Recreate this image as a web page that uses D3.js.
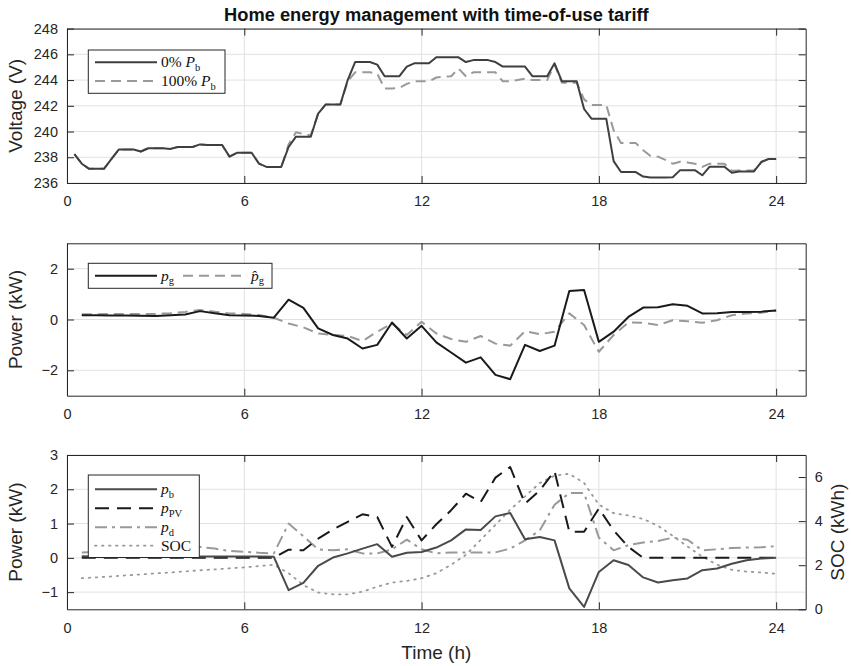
<!DOCTYPE html>
<html>
<head>
<meta charset="utf-8">
<script src="https://cdn.jsdelivr.net/npm/d3@7"></script>
<style>
  html, body { margin: 0; padding: 0; background: #fff; }
  svg { display: block; font-family: "Liberation Sans", Arial, Helvetica, sans-serif; }
</style>
</head>
<body>
<svg id="chart" width="851" height="666"></svg>
<script>
// ---- time bases ----
const tQuarter = d3.range(1, 97).map(i => i / 4);   // 15-min samples, 0.25 … 24 h
const tHalf = d3.range(1, 49).map(i => i / 2);      // 30-min samples, 0.5 … 24 h

// ---- feeder voltage (V) ----
const voltageNoBattery = [
  238.25, 237.5, 237.1, 237.1,   237.1, 237.85, 238.6, 238.6,   238.6, 238.45, 238.7, 238.7,
  238.7, 238.65, 238.8, 238.8,   238.8, 239.0, 238.95, 238.95,  238.95, 238.05, 238.35, 238.35,
  238.35, 237.5, 237.25, 237.25, 237.25, 238.8, 239.6, 239.6,   239.6, 241.4, 242.1, 242.1,
  242.1, 244.0, 245.4, 245.4,    245.4, 245.2, 244.3, 244.3,    244.3, 245.05, 245.3, 245.3,
  245.3, 245.77, 245.77, 245.77, 245.77, 245.4, 245.55, 245.55, 245.55, 245.4, 245.05, 245.05,
  245.05, 245.05, 244.3, 244.3,  244.3, 245.3, 243.9, 243.9,    243.9, 241.75, 241.0, 241.0,
  241.0, 237.7, 236.85, 236.85,  236.85, 236.5, 236.42, 236.42, 236.42, 236.45, 237.0, 237.0,
  237.0, 236.6, 237.27, 237.27,  237.27, 236.8, 236.9, 236.9,   236.9, 237.65, 237.87, 237.87
];
const voltageFullBattery = [
  238.25, 237.5, 237.1, 237.1,   237.1, 237.85, 238.6, 238.6,   238.6, 238.45, 238.7, 238.7,
  238.7, 238.65, 238.8, 238.8,   238.8, 239.0, 238.95, 238.95,  238.95, 238.05, 238.35, 238.35,
  238.35, 237.5, 237.25, 237.25, 237.25, 239.0, 239.95, 239.8,  239.7, 241.4, 242.1, 242.1,
  242.1, 243.9, 244.6, 244.6,    244.6, 244.5, 243.35, 243.35,  243.4, 243.7, 243.9, 243.9,
  243.9, 244.2, 244.25, 244.3,   244.9, 244.3, 244.6, 244.6,    244.6, 244.6, 243.9, 243.9,
  244.0, 244.1, 244.0, 244.0,    244.0, 245.2, 243.8, 243.8,    243.8, 242.5, 242.07, 242.07,
  242.07, 240.1, 239.1, 239.1,   239.1, 238.55, 238.1, 238.05,  237.8, 237.5, 237.65, 237.6,
  237.5, 237.25, 237.5, 237.5,   237.5, 236.95, 236.97, 236.97, 236.97, 237.6, 237.87, 237.87
];

// ---- grid exchange (kW) ----
const gridPower = [
  0.17, 0.17, 0.16, 0.16, 0.15, 0.14, 0.17, 0.2, 0.33, 0.25, 0.17, 0.16, 0.14, 0.07,
  0.78, 0.46, -0.35, -0.61, -0.75, -1.14, -1.0, -0.12, -0.75, -0.25,
  -0.9, -1.3, -1.7, -1.49, -2.18, -2.35, -1.0, -1.24, -1.03, 1.12, 1.16, -0.88,
  -0.48, 0.1, 0.47, 0.48, 0.6, 0.54, 0.24, 0.25, 0.3, 0.3, 0.31, 0.35
];
const gridPowerHat = [
  0.21, 0.21, 0.22, 0.22, 0.22, 0.22, 0.25, 0.3, 0.37, 0.31, 0.24, 0.22, 0.18, 0.07,
  -0.16, -0.31, -0.55, -0.61, -0.65, -0.85, -0.48, -0.16, -0.61, -0.09,
  -0.55, -0.77, -0.88, -0.65, -0.95, -1.03, -0.46, -0.58, -0.48, 0.24, -0.22, -1.27,
  -0.61, -0.12, -0.13, -0.22, -0.03, -0.07, -0.13, -0.03, 0.17, 0.24, 0.27, 0.35
];

// ---- battery, PV, demand (kW) and state of charge (kWh) ----
const batteryPower = [
  0.05, 0.04, 0.04, 0.04, 0.04, 0.04, 0.04, 0.04, 0.04, 0.04, 0.04, 0.04, 0.04, 0.03,
  -0.94, -0.73, -0.23, 0.01, 0.13, 0.27, 0.4, 0.03, 0.15, 0.17,
  0.3, 0.51, 0.83, 0.81, 1.21, 1.31, 0.54, 0.61, 0.51, -0.89, -1.43, -0.41,
  -0.07, -0.21, -0.57, -0.72, -0.65, -0.6, -0.36, -0.31, -0.17, -0.07, -0.02, 0.0
];
const pvPower = [
  0, 0, 0, 0, 0, 0, 0, 0, 0, 0, 0, 0, 0, 0,
  0.24, 0.22, 0.56, 0.83, 1.05, 1.27, 1.19, 0.32, 1.19, 0.51,
  0.98, 1.39, 1.87, 1.63, 2.34, 2.65, 1.58, 1.97, 2.53, 0.76, 0.76, 1.44,
  0.8, 0.32, 0, 0, 0, 0, 0, 0, 0, 0, 0, 0
];
const demandPower = [
  0.16, 0.17, 0.18, 0.18, 0.18, 0.18, 0.21, 0.26, 0.32, 0.27, 0.2, 0.18, 0.15, 0.13,
  1.0, 0.63, 0.25, 0.22, 0.25, 0.13, 0.13, 0.25, 0.53, 0.25,
  0.13, 0.16, 0.16, 0.16, 0.16, 0.27, 0.51, 0.8, 1.55, 1.89, 1.89, 0.59,
  0.22, 0.37, 0.45, 0.49, 0.59, 0.53, 0.22, 0.25, 0.29, 0.3, 0.31, 0.34
];
const stateOfCharge = [
  1.41, 1.45, 1.49, 1.54, 1.58, 1.63, 1.67, 1.72, 1.77, 1.81, 1.86, 1.9, 1.96, 2.02,
  1.64, 1.1, 0.76, 0.68, 0.68, 0.8, 1.03, 1.21, 1.29, 1.41,
  1.64, 2.02, 2.47, 3.15, 3.83, 4.52, 5.12, 5.73, 6.06, 6.15, 5.73, 4.75,
  4.36, 4.26, 4.1, 3.79, 3.33, 2.85, 2.39, 2.02, 1.79, 1.71, 1.67, 1.61
];

// ---- tick labels ----
const timeTicks = [0, 6, 12, 18, 24];
const voltageTicks = [236, 238, 240, 242, 244, 246, 248];
const gridTicks = [-2, 0, 2];
const powerTicks = [-1, 0, 1, 2, 3];
const socTicks = [0, 2, 4, 6];

// ---- layout ----
const plotLeft = 67, plotRight = 805.7;
const axisColor = "#262626";
const tickFont = "14.5px";
const labelFont = "19px";
const legendFont = '"Liberation Serif", "DejaVu Serif", serif';
const intFormat = d3.format("d");

const svg = d3.select("#chart");
const x = d3.scaleLinear().domain([0, 25]).range([plotLeft, plotRight]);

const yVolt = d3.scaleLinear().domain([236, 248]).range([183, 28.6]);
const yGrid = d3.scaleLinear().domain([-3, 3]).range([395.7, 243.3]);
const yPow = d3.scaleLinear().domain([-1.5, 3]).range([609.3, 455]);
const ySoc = d3.scaleLinear().domain([0, 7]).range([609.3, 455]);

function gridLines(y, yTicks) {
  const g = svg.append("g").attr("stroke", "#e1e1e1").attr("stroke-width", 1);
  const [yb, yt] = y.range();
  g.selectAll(".gx").data(timeTicks).join("line")
    .attr("x1", d => x(d)).attr("x2", d => x(d))
    .attr("y1", yt).attr("y2", yb);
  g.selectAll(".gy").data(yTicks).join("line")
    .attr("x1", plotLeft).attr("x2", plotRight)
    .attr("y1", d => y(d)).attr("y2", d => y(d));
}

function styleAxis(g) {
  g.attr("font-family", null).attr("font-size", null);
  g.selectAll("path.domain").attr("stroke", axisColor).attr("stroke-width", 1);
  g.selectAll(".tick line").attr("stroke", axisColor).attr("stroke-width", 1);
  g.selectAll(".tick text").attr("fill", axisColor).style("font-size", tickFont);
}

function frame(y, yTicks, rightScale, rightTicks) {
  const [yb, yt] = y.range();
  svg.append("g").attr("transform", `translate(0,${yb})`)
    .call(d3.axisBottom(x).tickValues(timeTicks).tickSize(-7).tickSizeOuter(0).tickPadding(13).tickFormat(intFormat))
    .call(styleAxis);
  svg.append("g").attr("transform", `translate(0,${yt})`)
    .call(d3.axisTop(x).tickValues(timeTicks).tickSize(-7).tickSizeOuter(0).tickFormat(""))
    .call(styleAxis);
  svg.append("g").attr("transform", `translate(${plotLeft},0)`)
    .call(d3.axisLeft(y).tickValues(yTicks).tickSize(-7).tickSizeOuter(0).tickPadding(9).tickFormat(intFormat))
    .call(styleAxis);
  if (rightScale) {
    svg.append("g").attr("transform", `translate(${plotRight},0)`)
      .call(d3.axisRight(rightScale).tickValues(rightTicks).tickSize(-7).tickSizeOuter(0).tickPadding(9).tickFormat(intFormat))
      .call(styleAxis);
  } else {
    svg.append("g").attr("transform", `translate(${plotRight},0)`)
      .call(d3.axisRight(y).tickValues(yTicks).tickSize(-7).tickSizeOuter(0).tickFormat(""))
      .call(styleAxis);
  }
}

function series(times, values, y, style) {
  const line = d3.line().x((d, i) => x(times[i])).y(d => y(d));
  svg.append("path")
    .datum(values)
    .attr("fill", "none")
    .attr("stroke", style.color)
    .attr("stroke-width", style.width || 2)
    .attr("stroke-dasharray", style.dash || null)
    .attr("stroke-linejoin", "round")
    .attr("stroke-linecap", style.cap || "butt")
    .attr("d", line);
}

// label made of plain / italic / subscript pieces
function richLabel(g, xPos, yPos, parts) {
  const t = g.append("text")
    .attr("x", xPos).attr("y", yPos)
    .attr("fill", "#111")
    .style("font-family", legendFont)
    .style("font-size", "15.5px");
  parts.forEach(p => {
    const s = t.append("tspan").text(p.t);
    if (p.i) s.attr("font-style", "italic");
    if (p.sub) s.attr("dy", 3.5).style("font-size", "10.5px");
  });
}

function legend(box, entries) {
  const g = svg.append("g");
  g.append("rect")
    .attr("x", box.x).attr("y", box.y).attr("width", box.w).attr("height", box.h)
    .attr("fill", "#fff").attr("stroke", axisColor).attr("stroke-width", 1);
  entries.forEach(e => {
    g.append("line")
      .attr("x1", e.x1).attr("x2", e.x2).attr("y1", e.y).attr("y2", e.y)
      .attr("stroke", e.style.color).attr("stroke-width", e.style.width || 2)
      .attr("stroke-dasharray", e.style.dash || null)
      .attr("stroke-linecap", e.style.cap || "butt");
    richLabel(g, e.tx, e.y + 5, e.parts);
  });
}

const styles = {
  v0:   { color: "#3f3f3f" },
  v100: { color: "#999999", dash: "10,6" },
  pg:   { color: "#1a1a1a" },
  pgh:  { color: "#999999", dash: "10,6" },
  pb:   { color: "#4a4a4a" },
  ppv:  { color: "#1a1a1a", dash: "14,8" },
  pd:   { color: "#999999", dash: "12,5,3,5" },
  soc:  { color: "#999999", dash: "1.5,5.5", width: 1.8, cap: "round" }
};

// ---- panel 1: voltage ----
gridLines(yVolt, voltageTicks);
series(tQuarter, voltageFullBattery, yVolt, styles.v100);
series(tQuarter, voltageNoBattery, yVolt, styles.v0);
frame(yVolt, voltageTicks);
legend({ x: 88.3, y: 50, w: 136.7, h: 43.3 }, [
  { x1: 95, x2: 157, y: 62.3, tx: 161, style: styles.v0, parts: [{ t: "0% " }, { t: "P", i: true }, { t: "b", sub: true }] },
  { x1: 95, x2: 157, y: 81, tx: 161, style: styles.v100, parts: [{ t: "100% " }, { t: "P", i: true }, { t: "b", sub: true }] }
]);

// ---- panel 2: grid power ----
gridLines(yGrid, gridTicks);
series(tHalf, gridPowerHat, yGrid, styles.pgh);
series(tHalf, gridPower, yGrid, styles.pg);
frame(yGrid, gridTicks);
legend({ x: 88.3, y: 263.3, w: 183.7, h: 25 }, [
  { x1: 95, x2: 157, y: 275.7, tx: 161, style: styles.pg, parts: [{ t: "p", i: true }, { t: "g", sub: true }] },
  { x1: 183, x2: 247, y: 275.7, tx: 251, style: styles.pgh, parts: [{ t: "p\u0302", i: true }, { t: "g", sub: true }] }
]);

// ---- panel 3: battery, PV, demand, SOC ----
gridLines(yPow, powerTicks);
series(tHalf, stateOfCharge, ySoc, styles.soc);
series(tHalf, demandPower, yPow, styles.pd);
series(tHalf, pvPower, yPow, styles.ppv);
series(tHalf, batteryPower, yPow, styles.pb);
frame(yPow, powerTicks, ySoc, socTicks);
legend({ x: 88.3, y: 475, w: 111, h: 82.5 }, [
  { x1: 95, x2: 157, y: 489.3, tx: 161, style: styles.pb, parts: [{ t: "p", i: true }, { t: "b", sub: true }] },
  { x1: 95, x2: 157, y: 508.3, tx: 161, style: styles.ppv, parts: [{ t: "p", i: true }, { t: "PV", sub: true }] },
  { x1: 95, x2: 157, y: 527.3, tx: 161, style: styles.pd, parts: [{ t: "p", i: true }, { t: "d", sub: true }] },
  { x1: 95, x2: 157, y: 545.7, tx: 161, style: styles.soc, parts: [{ t: "SOC" }] }
]);

// ---- titles and axis labels ----
const cx = (plotLeft + plotRight) / 2;
svg.append("text").attr("x", cx).attr("y", 20.5)
  .attr("text-anchor", "middle").attr("font-weight", "bold")
  .attr("fill", "#111").style("font-size", "18.3px")
  .text("Home energy management with time-of-use tariff");

function yLabel(text, xPos, yMid) {
  svg.append("text")
    .attr("transform", `translate(${xPos},${yMid}) rotate(-90)`)
    .attr("text-anchor", "middle").attr("fill", axisColor)
    .style("font-size", labelFont)
    .text(text);
}
yLabel("Voltage (V)", 22, (yVolt.range()[0] + yVolt.range()[1]) / 2);
yLabel("Power (kW)", 22, (yGrid.range()[0] + yGrid.range()[1]) / 2);
yLabel("Power (kW)", 22, (yPow.range()[0] + yPow.range()[1]) / 2);
yLabel("SOC (kWh)", 844, (yPow.range()[0] + yPow.range()[1]) / 2);

svg.append("text").attr("x", cx).attr("y", 659)
  .attr("text-anchor", "middle").attr("fill", axisColor)
  .style("font-size", labelFont)
  .text("Time (h)");
</script>
</body>
</html>
